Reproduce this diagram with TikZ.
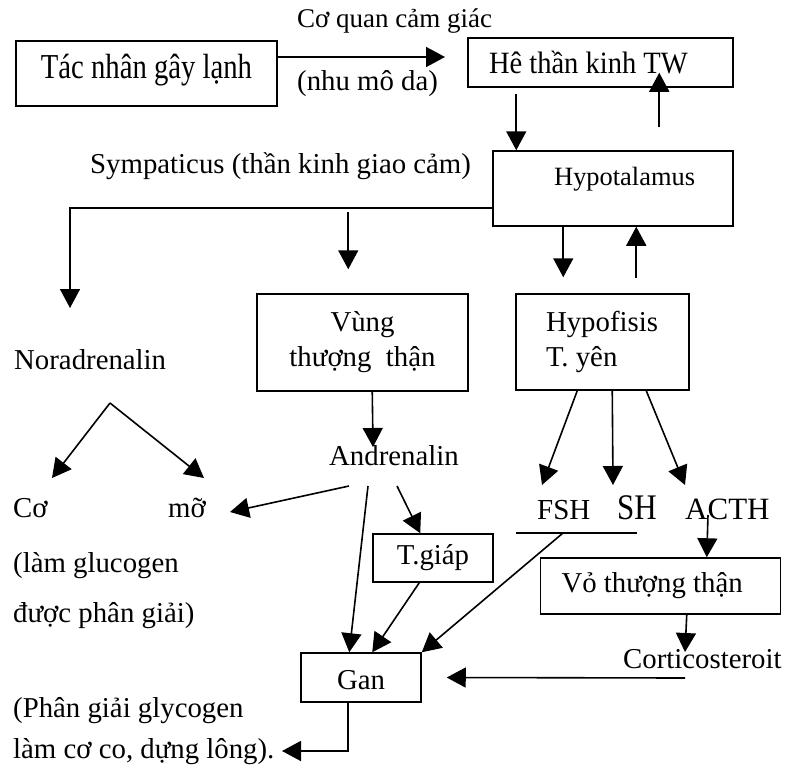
\documentclass[tikz,border=0pt]{standalone}
\usepackage{fontspec}
\setmainfont{Liberation Serif}
\newfontfamily\tacfont{Liberation Serif}[FakeStretch=0.82]
\newfontfamily\twfont{Liberation Serif}[FakeStretch=0.92]
\newfontfamily\shfont{Liberation Serif}[FakeStretch=0.86]
\usetikzlibrary{arrows.meta}

\tikzset{
  box/.style={draw, line width=1.5pt, inner sep=0pt},
  txt/.style={inner sep=0pt, anchor=base west},
  ln/.style={line width=1.6pt},
  arr/.style={line width=1.6pt, -{Triangle[length=19pt,width=20pt]}}
}

\begin{document}
\begin{tikzpicture}[x=1pt, y=-1pt, font=\fontsize{28.8}{35}\selectfont]
    \useasboundingbox (0,0) rectangle (786,776);
    % boxes
    \node[box, font=\tacfont\fontsize{35}{40}\selectfont, minimum width=261pt,
          text height=37pt, text depth=28pt] (tac) at (146.5,73.5) {Tác nhân gây lạnh};
    \node[box, font=\twfont\fontsize{31}{35}\selectfont, text height=36pt, text depth=13pt,
          text width=223pt, inner xsep=21pt, align=flush left] (tw) at (600.5,62.5) {Hê thần kinh TW};
    \node[box, font=\fontsize{26.4}{30}\selectfont, text width=164pt, inner xsep=38pt, align=flush right,
          text height=34pt, text depth=41pt] (hypot) at (613,188.5) {Hypotalamus};
    \node[box, minimum width=211pt, minimum height=97pt, align=center] (vung) at (362.5,342.5) {Vùng\\thượng\ \ thận};
    \node[box, minimum height=96pt, text width=113pt, inner xsep=30pt, align=flush left] (hypof) at (602.5,342) {Hypofisis\\T. yên};
    \node[box, minimum width=120pt, minimum height=48pt] (tgiap) at (433,558) {T.giáp};
    \node[box, minimum height=56pt, text width=198pt, inner xsep=21pt, align=flush left] (vo) at (660.5,586) {Vỏ thượng thận};
    \node[box, minimum width=120pt, text height=36pt, text depth=13pt] (gan) at (361,677.5) {Gan};
    % free texts
    \node[txt, font=\fontsize{27}{32}\selectfont] (cqcg) at (297,28) {Cơ quan cảm giác};
    \node[txt] (nmd) at (297,90) {(nhu mô da)};
    \node[txt] (symp) at (90,173) {Sympaticus (thần kinh giao cảm)};
    \node[txt] (nor) at (14,369) {Noradrenalin};
    \node[txt] (andr) at (329,465) {Andrenalin};
    \node[txt] (co) at (13,517) {Cơ};
    \node[txt] (mo) at (168,517) {mỡ};
    \node[txt] (lam1) at (13,572) {(làm glucogen};
    \node[txt] (duoc) at (13,622) {được phân giải)};
    \node[txt] (phan) at (13,717) {(Phân giải glycogen};
    \node[txt] (lam2) at (13,758) {làm cơ co, dựng lông).};
    \node[txt, font=\fontsize{29}{32}\selectfont] (fsh) at (537,519) {FSH};
    \node[txt, font=\shfont\fontsize{36}{40}\selectfont] (sh) at (617,519) {SH};
    \node[txt, font=\fontsize{31}{35}\selectfont] (acth) at (685,519) {ACTH};
    \node[txt] (cort) at (623,668) {Corticosteroit};
    % free ends
    \coordinate (sens) at (445,57);
    \coordinate (norin) at (70,308);
    \coordinate (split) at (110,403);
    \coordinate (coin) at (52,478);
    \coordinate (moin) at (204,478);
    \coordinate (mor) at (230,512);
    \coordinate (fshL) at (516,533);
    \coordinate (fshR) at (637,533);
    \coordinate (lamout) at (282,751);
    % connectors
    \draw[arr] (tac.east |- sens) -- (sens);
    \draw[arr] ([xshift=49pt,yshift=-6pt]tw.south west) -- ([xshift=24pt]hypot.north west);
    \draw[arr] ([xshift=167pt,yshift=23pt]hypot.north west) -- ([xshift=192pt,yshift=15pt]tw.south west);
    \draw[arr] ([yshift=-19.5pt]hypot.west) -| (norin);
    \draw[arr] ([xshift=92pt,yshift=81pt]vung.north west) -- ([xshift=92pt,yshift=24pt]vung.north west);
    \draw[arr] (split) -- (coin);
    \draw[arr] (split) -- (moin);
    \draw[arr] ([xshift=116pt]vung.south west) -- ([xshift=44pt,yshift=18pt]andr.base west);
    \draw[arr] ([xshift=20pt,yshift=-21pt]andr.base west) -- (mor);
    \draw[arr] ([xshift=39pt,yshift=-21pt]andr.base west) -- ([xshift=49pt]gan.north west);
    \draw[arr] ([xshift=68pt,yshift=-21pt]andr.base west) -- ([xshift=48pt]tgiap.north west);
    \draw[arr] ([xshift=47pt]tgiap.south west) -- ([xshift=72pt]gan.north west);
    \draw[arr] ([xshift=71pt]hypot.south west) -- ([xshift=48pt,yshift=16pt]hypof.north west);
    \draw[arr] ([xshift=121pt,yshift=15pt]hypof.north west) -- ([xshift=144pt]hypot.south west);
    \draw[arr] ([xshift=62pt]hypof.south west) -- ([xshift=5pt,yshift=34pt]fsh.base west);
    \draw[arr] ([xshift=97pt]hypof.south west) -- ([xshift=-4pt,yshift=34pt]sh.base west);
    \draw[arr] ([xshift=131pt]hypof.south west) -- ([yshift=34pt]acth.base west);
    \draw[ln] (fshL) -- (fshR);
    \draw[arr] ([xshift=47pt]fshL) -- (gan.north east);
    \draw[arr] ([xshift=23pt,yshift=4pt]acth.base west) -- ([xshift=167pt]vo.north west);
    \draw[arr] ([xshift=147pt]vo.south west) -- ([xshift=62pt,yshift=16pt]cort.base west);
    \draw[arr] ([xshift=62pt,yshift=-10pt]cort.base west) -- ([xshift=25pt]gan.east);
    \draw[arr] ([xshift=48pt]gan.south west) |- (lamout);
\end{tikzpicture}
\end{document}
